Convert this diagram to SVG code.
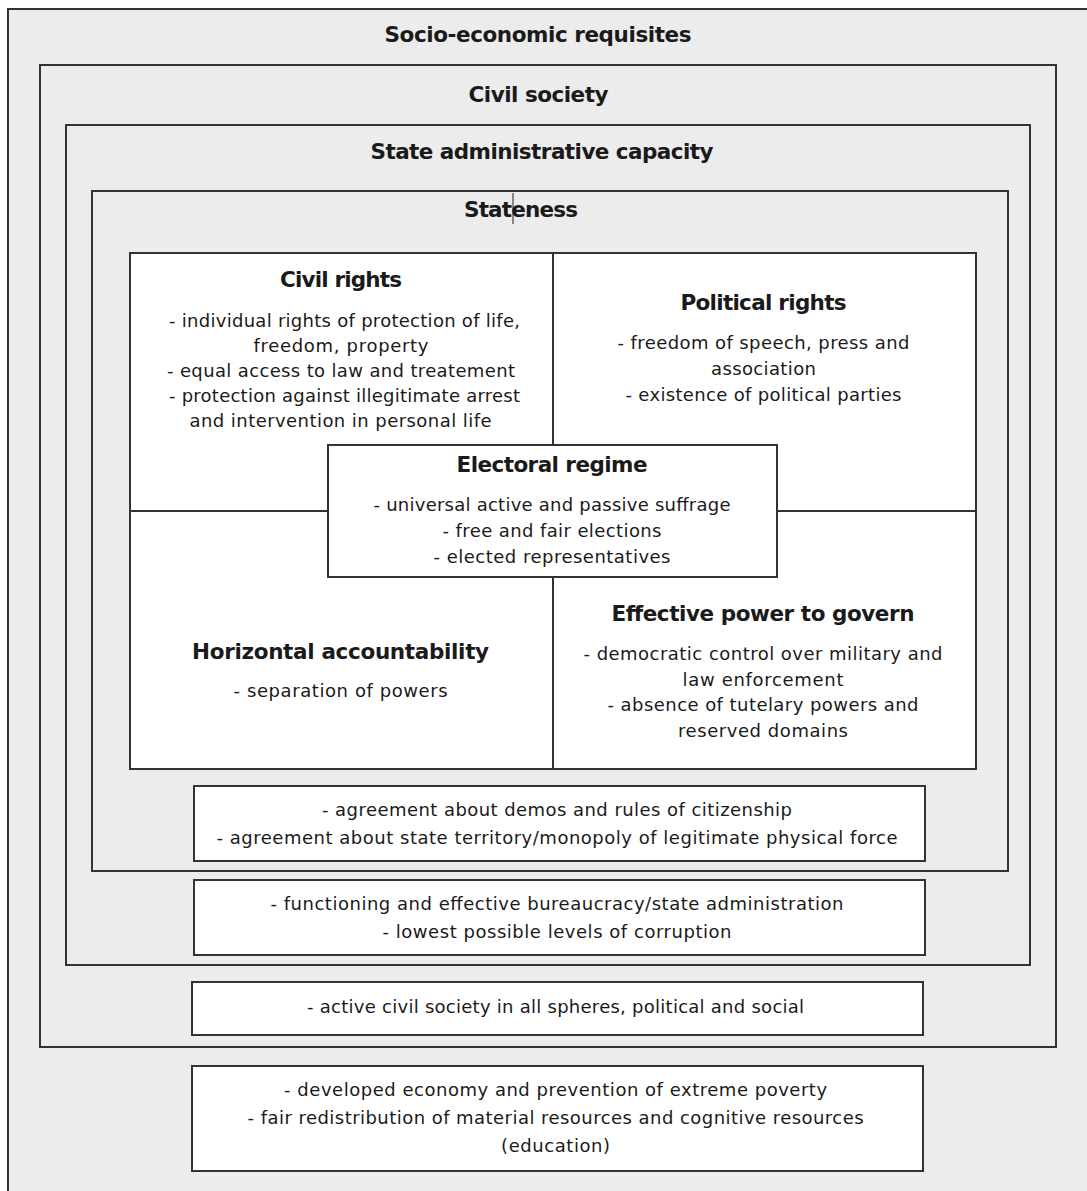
<svg xmlns="http://www.w3.org/2000/svg" width="1087" height="1191" viewBox="0 0 1087 1191">
<style>
.frame{fill:#ececec;stroke:#333;stroke-width:2}
.box{fill:#fff;stroke:#333;stroke-width:2}
.div{stroke:#333;stroke-width:2;fill:none}
.t{font-family:"DejaVu Sans",sans-serif;font-weight:bold;font-size:21.5px;fill:#1a1a1a;text-anchor:middle}
.b{font-family:"DejaVu Sans",sans-serif;font-size:18px;fill:#1a1a1a;text-anchor:middle}
</style>
<rect width="1087" height="1191" fill="#fff"/>
<g id="socio-economic">
<rect class="frame" x="8" y="9" width="1100" height="1200"/>
<text class="t" x="538" y="42" textLength="307">Socio-economic requisites</text>
</g>
<g id="civil-society">
<rect class="frame" x="40" y="65" width="1016" height="982"/>
<text class="t" x="538.5" y="102" textLength="140">Civil society</text>
</g>
<g id="state-admin">
<rect class="frame" x="66" y="125" width="964" height="840"/>
<text class="t" x="542" y="159" textLength="343">State administrative capacity</text>
</g>
<g id="stateness">
<rect class="frame" x="92" y="191" width="916" height="680"/>
<text class="t" x="521" y="217" textLength="114">Stateness</text>
<line x1="513" y1="193" x2="513" y2="224" stroke="#222" stroke-width="1"/>
</g>
<g id="core">
<rect class="box" x="130" y="253" width="846" height="516"/>
</g>
<g id="connectors">
<line class="div" x1="553" y1="253" x2="553" y2="445"/>
<line class="div" x1="553" y1="577" x2="553" y2="769"/>
<line class="div" x1="130" y1="511" x2="328" y2="511"/>
<line class="div" x1="777" y1="511" x2="976" y2="511"/>
</g>
<g id="civil-rights">
<text class="t" x="341" y="287" textLength="122">Civil rights</text>
<text class="b" x="344.5" y="327" textLength="351">- individual rights of protection of life,</text>
<text class="b" x="341" y="352" textLength="175">freedom, property</text>
<text class="b" x="341" y="377" textLength="348">- equal access to law and treatement</text>
<text class="b" x="344.5" y="402" textLength="351">- protection against illegitimate arrest</text>
<text class="b" x="340.5" y="427" textLength="302">and intervention in personal life</text>
</g>
<g id="political-rights">
<text class="t" x="763.5" y="310" textLength="166">Political rights</text>
<text class="b" x="763.5" y="349" textLength="292">- freedom of speech, press and</text>
<text class="b" x="763.5" y="375" textLength="105">association</text>
<text class="b" x="763.5" y="401" textLength="276">- existence of political parties</text>
</g>
<g id="electoral-regime">
<rect class="box" x="328" y="445" width="449" height="132"/>
<text class="t" x="552" y="472" textLength="191">Electoral regime</text>
<text class="b" x="552" y="511" textLength="357">- universal active and passive suffrage</text>
<text class="b" x="552" y="537" textLength="219">- free and fair elections</text>
<text class="b" x="552" y="563" textLength="237">- elected representatives</text>
</g>
<g id="horizontal-accountability">
<text class="t" x="340.6" y="659" textLength="297">Horizontal accountability</text>
<text class="b" x="340.6" y="697" textLength="214">- separation of powers</text>
</g>
<g id="effective-power">
<text class="t" x="763" y="621" textLength="303">Effective power to govern</text>
<text class="b" x="763" y="660" textLength="359">- democratic control over military and</text>
<text class="b" x="763" y="686" textLength="161">law enforcement</text>
<text class="b" x="763" y="711" textLength="311">- absence of tutelary powers and</text>
<text class="b" x="763" y="737" textLength="170">reserved domains</text>
</g>
<g id="stateness-box">
<rect class="box" x="194" y="786" width="731" height="75"/>
<text class="b" x="557" y="816" textLength="470">- agreement about demos and rules of citizenship</text>
<text class="b" x="557" y="844" textLength="681">- agreement about state territory/monopoly of legitimate physical force</text>
</g>
<g id="admin-box">
<rect class="box" x="194" y="880" width="731" height="75"/>
<text class="b" x="557" y="910" textLength="573">- functioning and effective bureaucracy/state administration</text>
<text class="b" x="557" y="938" textLength="349">- lowest possible levels of corruption</text>
</g>
<g id="civil-box">
<rect class="box" x="192" y="982" width="731" height="53"/>
<text class="b" x="555.6" y="1013" textLength="497">- active civil society in all spheres, political and social</text>
</g>
<g id="socio-box">
<rect class="box" x="192" y="1066" width="731" height="105"/>
<text class="b" x="555.6" y="1096" textLength="543">- developed economy and prevention of extreme poverty</text>
<text class="b" x="555.6" y="1124" textLength="616">- fair redistribution of material resources and cognitive resources</text>
<text class="b" x="555.6" y="1152" textLength="109">(education)</text>
</g>
</svg>
